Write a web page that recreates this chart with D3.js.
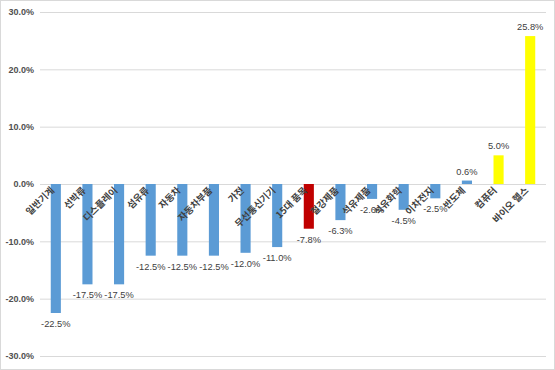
<!DOCTYPE html>
<html><head><meta charset="utf-8">
<script src="https://cdn.jsdelivr.net/npm/d3@7"></script>
<style>body{margin:0;background:#fff}svg{display:block}</style>
</head><body>
<script>
const categories = ["일반기계","선박류","디스플레이","섬유류","자동차","자동차부품","가전","무선통신기기","15대 품목","철강제품","석유제품","석유화학","이차전지","반도체","컴퓨터","바이오 헬스"];
const values = [-22.5,-17.5,-17.5,-12.5,-12.5,-12.5,-12.0,-11.0,-7.8,-6.3,-2.6,-4.5,-2.5,0.6,5.0,25.8];
const colorGroup = ["b","b","b","b","b","b","b","b","r","b","b","b","b","b","y","y"];
const yTicks = [30,20,10,0,-10,-20,-30];

const W=555,H=370;
const svg=d3.select("body").append("svg").attr("width",W).attr("height",H);
svg.append("rect").attr("x",0.5).attr("y",0.5).attr("width",W-1).attr("height",H-1).attr("fill","#fff").attr("stroke","#d9d9d9");

const y=d3.scaleLinear().domain([-30,30]).range([356,12]);
const x=d3.scaleBand().domain(categories).range([40,546]).paddingInner(0.68).paddingOuter(0.34);
const col={b:"#5B9BD5",r:"#C00000",y:"#FFFF00"};

const yAxis=d3.axisLeft(y).tickValues(yTicks).tickSize(-(546-40)).tickFormat(d=>d.toFixed(1)+"%");
const ga=svg.append("g").attr("transform","translate(40,0)").call(yAxis);
ga.select(".domain").remove();
ga.selectAll(".tick line").attr("stroke","#d9d9d9");
ga.selectAll(".tick text").attr("x",-6).attr("fill","#505050").attr("font-family","Liberation Sans, Arial, sans-serif").attr("font-size","9px").attr("font-weight","bold");

svg.selectAll("rect.bar").data(values).enter().append("rect").attr("class","bar")
 .attr("x",(d,i)=>x(categories[i]))
 .attr("width",x.bandwidth())
 .attr("y",d=>y(Math.max(0,d)))
 .attr("height",d=>Math.abs(y(d)-y(0)))
 .attr("fill",(d,i)=>col[colorGroup[i]]);

svg.selectAll("text.val").data(values).enter().append("text").attr("class","val")
 .attr("x",(d,i)=>x(categories[i])+x.bandwidth()/2)
 .attr("y",d=>d<0?y(d)+14:y(d)-6)
 .attr("text-anchor","middle")
 .attr("font-family","Liberation Sans, Arial, sans-serif").attr("font-size","9.3px").attr("fill","#404040")
 .text(d=>d.toFixed(1)+"%");

svg.selectAll("text.cat").data(categories).enter().append("text").attr("class","cat")
 .attr("transform",(d)=>`translate(${x(d)+x.bandwidth()/2-1},${y(0)+7}) rotate(-45)`)
 .attr("text-anchor","end")
 .attr("font-family","Noto Sans CJK KR, sans-serif").attr("font-size","9.5px").attr("font-weight","bold").attr("fill","#404040")
 .text(d=>d);
</script>
</body></html>
